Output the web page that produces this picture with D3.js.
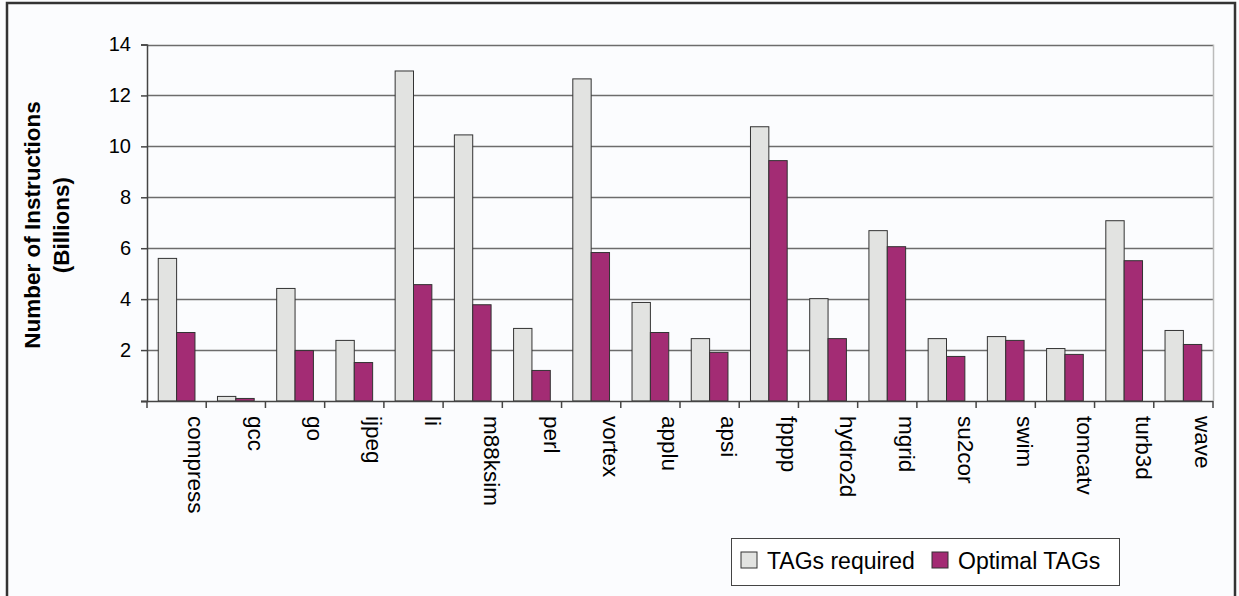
<!DOCTYPE html>
<html>
<head>
<meta charset="utf-8">
<script src="https://cdn.jsdelivr.net/npm/d3@7"></script>
<style>
  html, body { margin: 0; padding: 0; background: #fbfcfe; }
  svg { display: block; }
</style>
</head>
<body>
<script>
// Benchmarks (SPEC95 integer then floating point)
const categories = ["compress", "gcc", "go", "ijpeg", "li", "m88ksim", "perl", "vortex",
  "applu", "apsi", "fpppp", "hydro2d", "mgrid", "su2cor", "swim", "tomcatv", "turb3d", "wave"];
const seriesNames = ["TAGs required", "Optimal TAGs"];
const tagsRequired = [5.6, 0.18, 4.42, 2.38, 12.96, 10.45, 2.85, 12.65,
  3.87, 2.45, 10.77, 4.02, 6.69, 2.45, 2.53, 2.06, 7.08, 2.77];
const optimalTags = [2.69, 0.1, 1.98, 1.51, 4.57, 3.78, 1.2, 5.83,
  2.69, 1.91, 9.44, 2.45, 6.06, 1.75, 2.38, 1.83, 5.51, 2.22];
const yTicks = [2, 4, 6, 8, 10, 12, 14];
const yTitle = ["Number of Instructions", "(Billions)"];

const W = 1239, H = 596;
const colors = ["#e2e3e1", "#a32c74"];
const font = "Liberation Sans, Arial, sans-serif";

const svg = d3.select("body").append("svg").attr("width", W).attr("height", H);

// chart frame
svg.append("rect").attr("x", 7).attr("y", 3).attr("width", 1228).attr("height", 600)
  .attr("fill", "#fbfcfe").attr("stroke", "#333").attr("stroke-width", 2.5);

const plot = { left: 147, right: 1213, top: 44.5, bottom: 401 };

const x = d3.scaleBand().domain(categories).range([plot.left, plot.right]).paddingInner(0).paddingOuter(0);
const bw = x.bandwidth();
const inner = d3.scaleBand().domain(seriesNames).range([bw * 0.19, bw * 0.81]);
const y = d3.scaleLinear().domain([0, 14]).range([plot.bottom, plot.top]);

// gridlines
svg.append("g").selectAll("line").data(yTicks).join("line")
  .attr("x1", plot.left).attr("x2", plot.right)
  .attr("y1", d => Math.round(y(d)) + 0.5).attr("y2", d => Math.round(y(d)) + 0.5)
  .attr("stroke", "#6c6c6c").attr("stroke-width", 1.6);

// right edge of plot area
svg.append("line").attr("x1", plot.right + 0.5).attr("x2", plot.right + 0.5)
  .attr("y1", plot.top).attr("y2", plot.bottom)
  .attr("stroke", "#bbb").attr("stroke-width", 1.5);

// y axis
const yAxis = d3.axisLeft(y).tickValues([0].concat(yTicks)).tickSize(6).tickPadding(10)
  .tickFormat(d => d === 0 ? "" : d);
const gy = svg.append("g").attr("transform", `translate(${plot.left},0)`).call(yAxis);
gy.select(".domain").attr("stroke", "#444").attr("stroke-width", 1.5);
gy.selectAll(".tick line").attr("stroke", "#444").attr("stroke-width", 1.5);
gy.selectAll(".tick text").attr("font-family", font).attr("font-size", 20).attr("fill", "#000");

// bars
const rows = categories.map((c, i) => ({ c, v: [tagsRequired[i], optimalTags[i]] }));
const groups = svg.append("g").selectAll("g").data(rows).join("g")
  .attr("transform", d => `translate(${x(d.c)},0)`);
groups.selectAll("rect").data(d => d.v.map((v, k) => ({ k, v }))).join("rect")
  .attr("x", d => inner(seriesNames[d.k]))
  .attr("width", inner.bandwidth())
  .attr("y", d => y(d.v))
  .attr("height", d => y(0) - y(d.v))
  .attr("fill", d => colors[d.k])
  .attr("stroke", "#333").attr("stroke-width", 1);

// x axis (category boundaries)
const gx = svg.append("g").attr("transform", `translate(0,${plot.bottom})`);
gx.append("line").attr("x1", plot.left - 6).attr("x2", plot.right)
  .attr("y1", 0.5).attr("y2", 0.5).attr("stroke", "#444").attr("stroke-width", 1.5);
const bounds = categories.map(c => x(c)).concat([plot.right]);
gx.selectAll("line.tk").data(bounds).join("line").attr("class", "tk")
  .attr("x1", d => d).attr("x2", d => d).attr("y1", 0).attr("y2", 7)
  .attr("stroke", "#444").attr("stroke-width", 1.5);

// category labels, rotated to read downward
svg.append("g").selectAll("text").data(categories).join("text")
  .attr("transform", d => `translate(${x(d) + bw * 0.83},416) rotate(90)`)
  .attr("dy", "0.35em")
  .attr("font-family", font).attr("font-size", 22.5).attr("fill", "#000")
  .text(d => d);

// y axis title
const yt = svg.append("text")
  .attr("transform", "translate(40,225) rotate(-90)")
  .attr("text-anchor", "middle")
  .attr("font-family", font).attr("font-size", 22.5).attr("font-weight", "bold").attr("fill", "#000");
yt.selectAll("tspan").data(yTitle).join("tspan")
  .attr("x", 0).attr("dy", (d, i) => i === 0 ? 0 : 29).text(d => d);

// legend
const lg = svg.append("g").attr("transform", "translate(731,538)");
lg.append("rect").attr("x", 0.5).attr("y", 0.5).attr("width", 388).attr("height", 47)
  .attr("fill", "#fff").attr("stroke", "#444").attr("stroke-width", 1);
const legendX = [10, 201];
seriesNames.forEach((s, i) => {
  lg.append("rect").attr("x", legendX[i]).attr("y", 14).attr("width", 16).attr("height", 16)
    .attr("fill", colors[i]).attr("stroke", "#333").attr("stroke-width", 1);
  lg.append("text").attr("x", legendX[i] + 26).attr("y", 31)
    .attr("font-family", font).attr("font-size", 23).attr("fill", "#000").text(s);
});
</script>
</body>
</html>
